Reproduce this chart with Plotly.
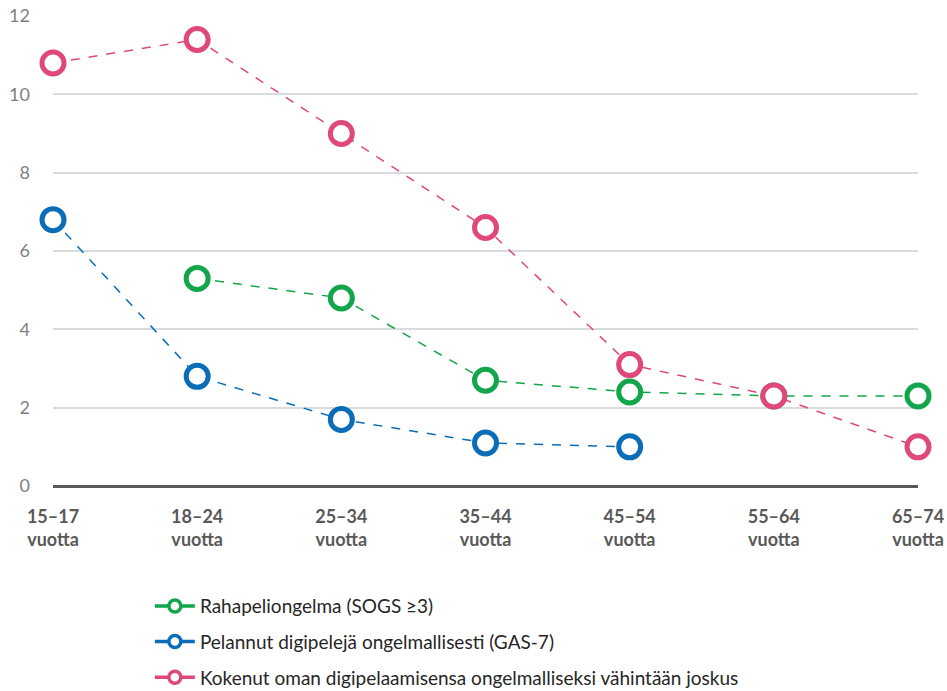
import plotly.graph_objects as go

categories = ["15–17<br>vuotta", "18–24<br>vuotta", "25–34<br>vuotta", "35–44<br>vuotta",
              "45–54<br>vuotta", "55–64<br>vuotta", "65–74<br>vuotta"]
series_names = ["Rahapeliongelma (SOGS ≥3)",
                "Pelannut digipelejä ongelmallisesti (GAS-7)",
                "Kokenut oman digipelaamisensa ongelmalliseksi vähintään joskus"]
green_vals = [None, 5.3, 4.8, 2.7, 2.4, 2.3, 2.3]
blue_vals = [6.8, 2.8, 1.7, 1.1, 1.0, None, None]
pink_vals = [10.8, 11.4, 9.0, 6.6, 3.1, 2.3, 1.0]
y_ticks = [0, 2, 4, 6, 8, 10, 12]

colors = ["#12A54B", "#0B6DB7", "#E0487C"]
FONT = "Lato, 'Open Sans', sans-serif"

fig = go.Figure()
for i, (name, vals) in enumerate(zip(series_names, [green_vals, blue_vals, pink_vals])):
    fig.add_trace(go.Scatter(
        x=categories, y=vals, name=name, mode="lines+markers",
        connectgaps=False, legendgroup=str(i), cliponaxis=False, showlegend=False,
        line=dict(color=colors[i], width=1.5, dash="dash"),
        marker=dict(symbol="circle", size=22, color="white",
                    line=dict(color=colors[i], width=5)),
    ))
# legend entries with solid line symbols (as in the original legend)
for i, name in enumerate(series_names):
    fig.add_trace(go.Scatter(
        x=[None], y=[None], name=name, mode="lines+markers",
        legendgroup=str(i), showlegend=True,
        line=dict(color=colors[i], width=3.5),
        marker=dict(symbol="circle", size=12, color="white",
                    line=dict(color=colors[i], width=3.5)),
    ))

fig.update_layout(
    width=947, height=691,
    margin=dict(l=53, r=29, t=16, b=205, autoexpand=False),
    plot_bgcolor="white", paper_bgcolor="white",
    font=dict(family=FONT),
    showlegend=True,
    legend=dict(orientation="v", x=0.112, xanchor="left", y=-0.215, yanchor="top",
                font=dict(size=19, color="#262626"), tracegroupgap=8,
                itemwidth=40),
)
fig.update_xaxes(
    type="category", range=[0, 6], showgrid=False, showline=False, zeroline=False,
    tickfont=dict(size=18, color="#595959", family=FONT, weight="bold"),
    ticks="", ticklabelstandoff=18, automargin=False, ticklabeloverflow="allow",
)
fig.update_yaxes(
    range=[0, 12], tickvals=y_ticks, showgrid=True, gridcolor="#D9DCDE", gridwidth=2,
    zeroline=True, zerolinecolor="#595959", zerolinewidth=3,
    tickfont=dict(size=18, color="#7F7F7F"), ticks="", ticklabelstandoff=22,
    automargin=False, ticklabeloverflow="allow",
)
fig.write_html(
    "out.html",
    config={"displayModeBar": False},
    post_script="document.body.style.margin='0';document.body.style.overflow='hidden';",
)
